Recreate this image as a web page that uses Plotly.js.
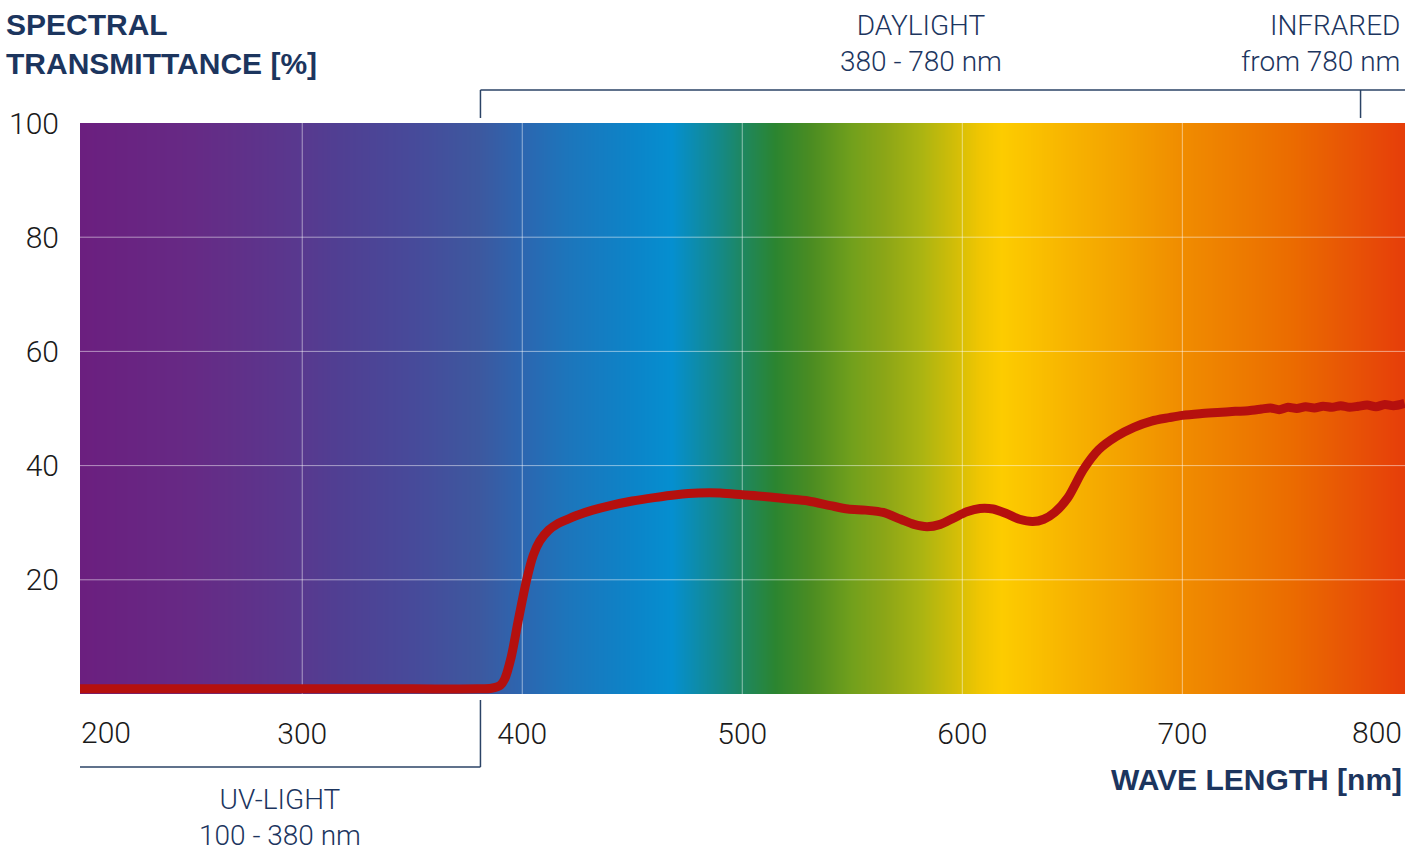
<!DOCTYPE html>
<html>
<head>
<meta charset="utf-8">
<script src="https://cdn.plot.ly/plotly-3.0.1.min.js"></script>
<style>
  html, body { margin: 0; padding: 0; background: #ffffff; }
  #chart { width: 1405px; height: 851px; }
</style>
</head>
<body>
<div id="chart"></div>
<script>
// ---- data ----
const wavelength = [199, 220, 250, 300, 350, 380, 386, 390, 392, 395, 398, 402, 405, 408, 412, 416, 420, 425, 432, 440, 450, 460, 470, 480, 490, 500, 510, 520, 530, 540, 548, 556, 564, 572, 578, 584, 590, 596, 602, 608, 614, 620, 626, 632, 637, 642, 648, 655, 662, 670, 678, 686, 694, 700, 708, 716, 724, 730, 736, 740, 744, 748, 752, 756, 760, 764, 768, 772, 776, 780, 784, 788, 792, 796, 801];
const transmittance = [0.9, 0.9, 0.9, 0.9, 0.9, 0.9, 1.0, 1.5, 2.6, 6.5, 12.5, 20.0, 24.3, 26.8, 28.7, 29.8, 30.5, 31.3, 32.2, 33.0, 33.8, 34.4, 34.9, 35.2, 35.2, 34.9, 34.6, 34.2, 33.8, 33.0, 32.4, 32.2, 31.8, 30.6, 29.7, 29.3, 29.7, 30.8, 31.9, 32.5, 32.4, 31.6, 30.6, 30.2, 30.6, 31.8, 34.4, 39.3, 42.8, 45.1, 46.7, 47.8, 48.4, 48.8, 49.1, 49.3, 49.5, 49.6, 49.9, 50.1, 49.8, 50.2, 50.0, 50.3, 50.1, 50.4, 50.2, 50.5, 50.2, 50.4, 50.6, 50.3, 50.7, 50.5, 50.9];

const xTickVals = [300, 400, 500, 600, 700];
const xTickText = ['300', '400', '500', '600', '700'];
const xEdgeLabels = ['200', '800'];
const yTickVals = [20, 40, 60, 80, 100];
const yTickText = ['20', '40', '60', '80', '100'];

// spectrum background colour stops (wavelength in nm -> colour)
const spectrumWl = [195, 200, 250, 300, 314, 350, 380, 400, 420, 450, 468, 489, 500, 515, 531, 550, 565, 581, 596, 608, 618, 649, 675, 700, 728, 750, 773, 805];
const spectrumColors = ['#6b1f7f', '#6b1f7f', '#662a85', '#58398f', '#513e92', '#474a9a', '#3d589f', '#2c66b0', '#1d75bb', '#0c84c8', '#058fd0', '#14898a', '#1e8760', '#2b8530', '#4a8c22', '#72a01c', '#8ca617', '#aab412', '#d0bd08', '#f0c602', '#fdcc00', '#f7b300', '#f3a000', '#f08c00', '#ed7a00', '#eb6b00', '#e85705', '#e63a0a'];

const textNavy = '#1c355e';
const lightFont = 'Roboto, "Open Sans", "Liberation Sans", sans-serif';
const boldFont = '"Liberation Sans", Arial, sans-serif';

const wlMin = spectrumWl[0], wlMax = spectrumWl[spectrumWl.length - 1];
const colorscale = spectrumWl.map((w, i) => [(w - wlMin) / (wlMax - wlMin), spectrumColors[i]]);

const background = {
  type: 'heatmap',
  x: [wlMin, wlMax],
  y: [0, 100],
  z: [[wlMin, wlMax], [wlMin, wlMax]],
  zmin: wlMin, zmax: wlMax,
  zsmooth: 'best',
  colorscale: colorscale,
  showscale: false,
  hoverinfo: 'skip'
};

// grid lines drawn above the spectrum, from the tick arrays
const gx = [], gy = [];
xTickVals.forEach(v => { gx.push(v, v, null); gy.push(0, 100, null); });
yTickVals.slice(0, -1).forEach(v => { gx.push(190, 810, null); gy.push(v, v, null); });
const grid = {
  type: 'scatter', mode: 'lines', x: gx, y: gy,
  line: { color: 'rgba(255,255,255,0.5)', width: 1 },
  hoverinfo: 'skip', showlegend: false
};

const curve = {
  type: 'scatter', mode: 'lines',
  x: wavelength, y: transmittance,
  line: { color: '#b5100e', width: 9, shape: 'spline', smoothing: 0.8 },
  showlegend: false
};

const navyLine = { color: '#2b4366', width: 1.5 };
const tickFont = { family: lightFont, size: 30, color: '#1a1a1a', weight: 300 };
const noteFont = { family: lightFont, size: 28, color: textNavy, weight: 300 };
const headFont = { family: boldFont, size: 30, color: textNavy, weight: 700 };

const layout = {
  width: 1405, height: 851,
  margin: { l: 80, r: 0, t: 123, b: 157 },
  paper_bgcolor: '#ffffff', plot_bgcolor: '#ffffff',
  showlegend: false,
  xaxis: {
    range: [199, 801.2], fixedrange: true,
    showgrid: false, zeroline: false, showline: false,
    tickmode: 'array', tickvals: xTickVals, ticktext: xTickText,
    ticks: '', ticklabelstandoff: 19,
    tickfont: tickFont
  },
  yaxis: {
    range: [0, 100], fixedrange: true,
    showgrid: false, zeroline: false, showline: false,
    tickmode: 'array', tickvals: yTickVals, ticktext: yTickText,
    ticks: '', ticklabelstandoff: 20,
    tickfont: tickFont
  },
  annotations: [
    { xref: 'paper', yref: 'paper', x: -0.0575, y: 1.2050, xanchor: 'left', yanchor: 'top', align: 'left',
      text: 'SPECTRAL<br>TRANSMITTANCE [%]', showarrow: false, font: headFont },
    { xref: 'paper', yref: 'paper', x: 0.9995, y: -0.1489, xanchor: 'right', yanchor: 'middle',
      text: 'WAVE LENGTH [nm]', showarrow: false, font: headFont },
    { xref: 'x', yref: 'paper', x: 581, y: 1.140, xanchor: 'center', yanchor: 'middle', align: 'center',
      text: 'DAYLIGHT<br>380 - 780 nm', showarrow: false, font: noteFont },
    { xref: 'paper', yref: 'paper', x: 0.9975, y: 1.140, xanchor: 'right', yanchor: 'middle', align: 'right',
      text: 'INFRARED<br>from 780 nm', showarrow: false, font: noteFont },
    { xref: 'x', yref: 'paper', x: 290, y: -0.2170, xanchor: 'center', yanchor: 'middle', align: 'center',
      text: 'UV-LIGHT<br>100 - 380 nm', showarrow: false, font: noteFont },
    { xref: 'paper', yref: 'paper', x: -0.0005, y: -0.0683, xanchor: 'left', yanchor: 'middle',
      text: xEdgeLabels[0], showarrow: false, font: tickFont },
    { xref: 'paper', yref: 'paper', x: 0.9995, y: -0.0683, xanchor: 'right', yanchor: 'middle',
      text: xEdgeLabels[1], showarrow: false, font: tickFont }
  ],
  shapes: [
    // daylight bracket
    { type: 'line', xref: 'x', yref: 'paper', x0: 381, x1: 801.2, y0: 1.0578, y1: 1.0578, line: navyLine },
    { type: 'line', xref: 'x', yref: 'paper', x0: 381, x1: 381, y0: 1.0578, y1: 1.0088, line: navyLine },
    { type: 'line', xref: 'x', yref: 'paper', x0: 781, x1: 781, y0: 1.0578, y1: 1.0088, line: navyLine },
    // UV bracket
    { type: 'line', xref: 'x', yref: 'paper', x0: 198.5, x1: 381, y0: -0.1278, y1: -0.1278, line: navyLine },
    { type: 'line', xref: 'x', yref: 'paper', x0: 381, x1: 381, y0: -0.0105, y1: -0.1278, line: navyLine }
  ]
};

Plotly.newPlot('chart', [background, grid, curve], layout, { displayModeBar: false, staticPlot: true });
</script>
</body>
</html>
